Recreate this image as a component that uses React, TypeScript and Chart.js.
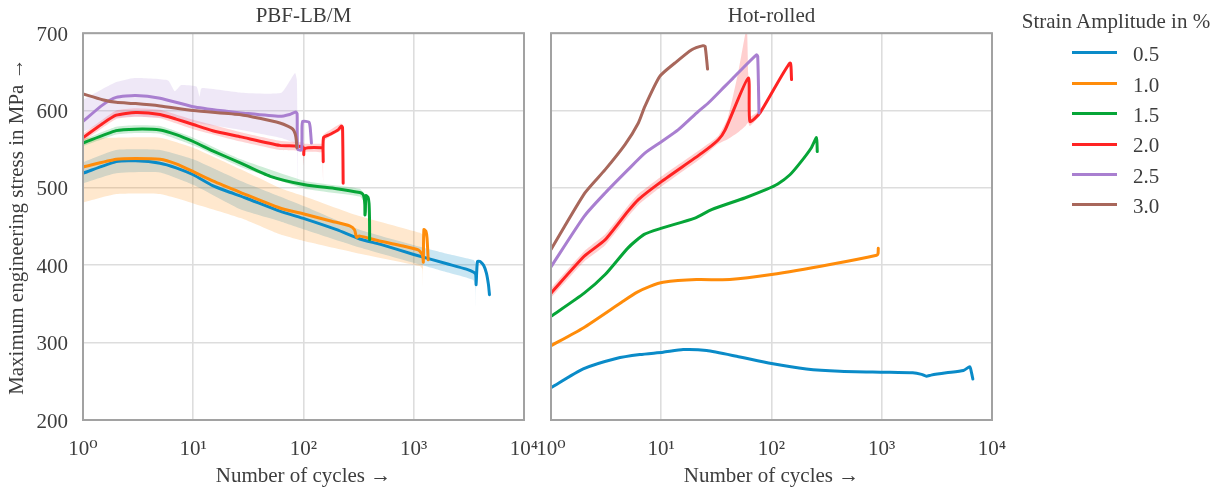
import React, { useEffect, useRef } from 'react';
import { Chart, registerables } from 'chart.js';

Chart.register(...registerables);

// ---------- Axis ticks ----------
const xTickValues = [1, 10, 100, 1000, 10000];
const xTickLabels = ['10⁰', '10¹', '10²', '10³', '10⁴'];
const yTickValues = [200, 300, 400, 500, 600, 700];

// ---------- Legend ----------
const amplitudeLabels = ['0.5', '1.0', '1.5', '2.0', '2.5', '3.0'];
const seriesColors = ['#0a8bc8', '#ff8c0a', '#06a537', '#ff2323', '#a97fd0', '#a8675b'];
const seriesRgb = ['10,139,200', '255,140,10', '6,165,55', '255,35,35', '169,127,208', '168,103,91'];

// ---------- PBF-LB/M (mean curves) ----------
const pbf05N = [1, 2, 3, 5, 7, 10, 15, 20, 30, 61, 103, 200, 324, 500, 1000, 2000, 3000, 3500, 3650, 3680, 3720, 3790, 4000, 4300, 4560, 4760, 4860];
const pbf05S = [519, 534, 535, 532, 526, 517, 503, 496, 487, 470, 460, 446, 434, 427, 414, 402, 395, 391, 388, 375, 390, 405, 405, 400, 390, 375, 362];

const pbf10N = [1, 2, 3, 5, 7, 10, 15, 27, 61, 103, 180, 262, 290, 300, 307, 320, 500, 800, 1097, 1180, 1212, 1222, 1236, 1290, 1320, 1352];
const pbf10S = [527, 537, 538, 537, 531, 521, 509, 494, 474, 466, 457, 451, 446, 438, 436, 438, 431, 425, 420, 415, 410, 404, 446, 444, 435, 407];

const pbf15N = [1, 2, 3, 5, 7, 10, 15, 27, 50, 103, 200, 324, 345, 355, 360, 361, 364, 368, 385, 393, 397, 398];
const pbf15S = [558, 574, 576, 575, 569, 560, 548, 532, 515, 504, 499, 494, 492, 487, 478, 465, 470, 490, 488, 480, 460, 433];

const pbf20N = [1, 1.5, 2, 3, 5, 7, 10, 15, 27, 61, 99, 100.5, 101.5, 110, 146, 150, 151, 152, 173, 206, 221, 226, 229];
const pbf20S = [565, 583, 594, 597.5, 595, 589, 582, 574, 566, 555, 553, 543, 550, 552, 552, 551, 534, 565, 569, 575, 580, 578, 506];

const pbf25N = [1, 1.5, 2, 3, 5, 10, 20, 27, 61, 75, 85, 87.5, 88.5, 95.9, 97, 98.5, 112, 115, 118];
const pbf25S = [586, 607, 617, 619.5, 616, 605, 599, 597, 592.5, 595, 598, 596, 550, 549, 580, 586, 585, 578, 558];

const pbf30N = [1, 1.5, 2, 3, 5, 10, 27, 40, 61, 72, 80, 84, 86, 87];
const pbf30S = [621.4, 614, 610.6, 609, 606, 600, 594.7, 590, 584, 580, 576, 570, 562, 552];

// ---------- PBF-LB/M (scatter bands) ----------
const pbf05BandN = [1, 2, 5, 10, 27, 61, 103, 324, 1136, 2000, 3460, 3640, 3670];
const pbf05Upper = [533, 549, 549, 537, 509, 489, 476, 446, 424, 415, 407, 403, 400];
const pbf05Lower = [506, 519, 520, 504, 472, 457, 446, 423, 401, 391, 381, 370, 347];

const pbf10BandN = [1, 2, 5, 10, 27, 61, 103, 300, 1136, 1200, 1215];
const pbf10Upper = [565, 565, 565, 552, 524, 500, 489, 465, 442, 440, 440];
const pbf10Lower = [481, 492, 492, 480, 461, 440, 431, 416, 399, 395, 369];

const pbf15BandN = [1, 2, 3, 5, 10, 27, 103, 324, 355];
const pbf15Upper = [562, 579, 581, 580, 565, 537, 509, 499, 492];
const pbf15Lower = [554, 569, 571, 570, 555, 527, 499, 489, 482];

const pbf20BandN = [1, 2, 3, 5, 10, 27, 61, 99, 100, 101, 146, 150, 151, 152, 221];
const pbf20Upper = [570, 600, 603, 601, 588, 572, 561, 559, 559, 557, 557, 557, 557, 569, 584];
const pbf20Lower = [560, 589, 592, 590, 576, 560, 549, 547, 528, 546, 546, 546, 504, 560, 575];

const pbf25BandN = [1, 1.94, 2.94, 5.9, 6.8, 7.8, 10.7, 11.4, 11.9, 27.3, 62.8, 83.7, 87, 88, 89];
const pbf25Upper = [614, 636, 642, 639, 625, 633, 631, 618, 629, 623, 623, 648.6, 640, 600, 560];
const pbf25Lower = [572.5, 590, 592, 590, 589, 588, 584, 584, 583, 575, 564.6, 558, 556, 540, 500];

// ---------- Hot-rolled (mean curves) ----------
const hr05N = [1, 1.96, 3.9, 6.4, 10.4, 15.8, 25.8, 48.3, 100, 207, 416, 1000, 1910, 2300, 2540, 2800, 3850, 5500, 6290, 6500, 6700];
const hr05S = [241.6, 266, 279.5, 284.6, 287.6, 291, 289.8, 282.4, 273, 266, 263, 261.8, 261, 259, 256.6, 258, 261, 264, 268.8, 262, 253];

const hr10N = [1, 1.96, 4.5, 6, 7.9, 10.4, 20.9, 41.9, 100, 339, 900, 925, 930];
const hr10S = [296, 319, 353.5, 365, 372.8, 378, 381.5, 381.5, 388, 401, 413, 415, 422];

const hr15N = [1, 2, 3.1, 5, 7, 10.1, 20.2, 28.6, 57.2, 90, 114, 147, 181, 230, 256, 260];
const hr15S = [334, 364, 388, 422.5, 440, 448, 461, 472, 487, 498, 505, 517, 532, 552, 565, 547];

const hr20N = [1, 2, 3.1, 5, 6.2, 10.1, 23.3, 32.8, 38, 61.5, 63.7, 78.6, 147, 152];
const hr20S = [364, 411.6, 433, 470, 485, 508.5, 545, 562, 575, 642, 586, 597, 661.5, 640];

const hr25N = [1, 2, 3.1, 5, 7.1, 10.1, 14.3, 21.7, 26.7, 37.7, 44.8, 49.7, 73, 75, 77];
const hr25S = [398, 463.3, 493.5, 523.6, 545, 560, 575.3, 599, 609.8, 631.3, 642, 648.6, 672, 670, 597];

const hr30N = [1, 2.03, 3.1, 4.69, 6.2, 7.1, 9.7, 13.3, 18.9, 24, 25, 26.3];
const hr30S = [420.3, 493.5, 523.6, 556, 584, 605.4, 644.2, 661.5, 678.7, 683.9, 683, 653.7];

// ---------- Hot-rolled (scatter band) ----------
const hr20BandN = [1, 2, 3.1, 5, 6.2, 10.1, 23.3, 32.8, 40, 50, 58, 60, 61.5, 63.7, 78.6];
const hr20Upper = [370, 418, 440, 477, 492, 515, 551, 567, 590, 650, 700, 705, 648, 592, 601];
const hr20Lower = [358, 405, 426, 463, 478, 502, 539, 557, 563, 572, 580, 583, 584, 580, 593];

// ---------- styling ----------
const FONT = "'Liberation Serif', 'Times New Roman', 'DejaVu Serif', serif";
const TEXT = '#3d3d3d';
const GRID = '#dddddd';
const FRAME = '#a2a2a2';

Chart.defaults.font.family = FONT;
Chart.defaults.color = TEXT;

const pts = (n: number[], s: number[]) => n.map((x, i) => ({ x, y: s[i] }));

function lineDs(n: number[], s: number[], idx: number) {
  return {
    data: pts(n, s),
    borderColor: seriesColors[idx],
    backgroundColor: seriesColors[idx],
    borderWidth: 3,
    pointRadius: 0,
    tension: 0.2,
    borderJoinStyle: 'round',
    borderCapStyle: 'round',
    fill: false,
    order: 10 - idx,
  };
}

function bandDs(n: number[], up: number[], lo: number[], idx: number, alpha: number) {
  return [
    {
      data: pts(n, up),
      borderColor: 'transparent',
      borderWidth: 0,
      pointRadius: 0,
      tension: 0.15,
      backgroundColor: `rgba(${seriesRgb[idx]},${alpha})`,
      fill: '+1',
      order: 40 - idx,
    },
    {
      data: pts(n, lo),
      borderColor: 'transparent',
      borderWidth: 0,
      pointRadius: 0,
      tension: 0.15,
      fill: false,
      order: 40 - idx,
    },
  ];
}

const framePlugin = {
  id: 'frame',
  afterDatasetsDraw(chart: any) {
    const { ctx, chartArea: a } = chart;
    ctx.save();
    ctx.strokeStyle = FRAME;
    ctx.lineWidth = 2;
    ctx.strokeRect(a.left, a.top, a.right - a.left, a.bottom - a.top);
    ctx.restore();
  },
};

function makeConfig(title: string, datasets: any[], showY: boolean, padding: any) {
  return {
    type: 'line',
    data: { datasets },
    options: {
      responsive: false,
      animation: false,
      events: [],
      layout: { padding },
      plugins: {
        legend: { display: false },
        tooltip: { enabled: false },
        title: {
          display: true,
          text: title,
          fullSize: false,
          color: TEXT,
          font: { size: 21, weight: 'normal', family: FONT },
          padding: { top: 4, bottom: 4 },
        },
      },
      scales: {
        x: {
          type: 'logarithmic',
          min: 1,
          max: 10000,
          afterBuildTicks: (s: any) => {
            s.ticks = xTickValues.map((v) => ({ value: v }));
          },
          afterFit: (s: any) => {
            s.height = 70;
          },
          ticks: {
            autoSkip: false,
            maxRotation: 0,
            padding: 17,
            color: TEXT,
            font: { size: 21, family: FONT },
            callback: (v: any) => {
              const i = xTickValues.indexOf(Number(v));
              return i >= 0 ? xTickLabels[i] : '';
            },
          },
          grid: { color: GRID, lineWidth: 1.6, drawTicks: false },
          border: { display: false },
          title: {
            display: true,
            text: 'Number of cycles →',
            color: TEXT,
            font: { size: 21, family: FONT },
            padding: { top: 0, bottom: 1 },
          },
        },
        y: {
          type: 'linear',
          min: 200,
          max: 700,
          afterBuildTicks: (s: any) => {
            s.ticks = yTickValues.map((v) => ({ value: v }));
          },
          afterFit: (s: any) => {
            s.width = showY ? 83 : 0;
          },
          ticks: {
            display: showY,
            padding: 15,
            labelOffset: 2,
            color: TEXT,
            font: { size: 21, family: FONT },
          },
          grid: { color: GRID, lineWidth: 1.6, drawTicks: false },
          border: { display: false },
          title: {
            display: showY,
            text: 'Maximum engineering stress in MPa →',
            color: TEXT,
            font: { size: 21, family: FONT },
            padding: { top: 5, bottom: 0 },
          },
        },
      },
    },
    plugins: [framePlugin],
  } as any;
}

export default function App() {
  const leftRef = useRef<HTMLCanvasElement>(null);
  const rightRef = useRef<HTMLCanvasElement>(null);

  useEffect(() => {
    const leftSets = [
      ...bandDs(pbf05BandN, pbf05Upper, pbf05Lower, 0, 0.22),
      ...bandDs(pbf10BandN, pbf10Upper, pbf10Lower, 1, 0.2),
      ...bandDs(pbf15BandN, pbf15Upper, pbf15Lower, 2, 0.2),
      ...bandDs(pbf20BandN, pbf20Upper, pbf20Lower, 3, 0.2),
      ...bandDs(pbf25BandN, pbf25Upper, pbf25Lower, 4, 0.18),
      lineDs(pbf05N, pbf05S, 0),
      lineDs(pbf10N, pbf10S, 1),
      lineDs(pbf15N, pbf15S, 2),
      lineDs(pbf20N, pbf20S, 3),
      lineDs(pbf25N, pbf25S, 4),
      lineDs(pbf30N, pbf30S, 5),
    ];
    const rightSets = [
      ...bandDs(hr20BandN, hr20Upper, hr20Lower, 3, 0.22),
      lineDs(hr05N, hr05S, 0),
      lineDs(hr10N, hr10S, 1),
      lineDs(hr15N, hr15S, 2),
      lineDs(hr20N, hr20S, 3),
      lineDs(hr25N, hr25S, 4),
      lineDs(hr30N, hr30S, 5),
    ];
    const c1 = new Chart(
      leftRef.current as HTMLCanvasElement,
      makeConfig('PBF-LB/M', leftSets, true, { left: 0, right: 1228 - 524, top: 0, bottom: 0 })
    );
    const c2 = new Chart(
      rightRef.current as HTMLCanvasElement,
      makeConfig('Hot-rolled', rightSets, false, { left: 551, right: 1228 - 992, top: 0, bottom: 0 })
    );
    return () => {
      c1.destroy();
      c2.destroy();
    };
  }, []);

  return (
    <div
      style={{
        position: 'fixed',
        left: 0,
        top: 0,
        width: 1228,
        height: 490,
        background: '#ffffff',
        fontFamily: FONT,
        color: TEXT,
        overflow: 'hidden',
      }}
    >
      <canvas ref={leftRef} width={1228} height={490} style={{ position: 'absolute', left: 0, top: 0 }} />
      <canvas ref={rightRef} width={1228} height={490} style={{ position: 'absolute', left: 0, top: 0 }} />
      <div
        style={{
          position: 'absolute',
          left: 1006,
          top: 9,
          width: 220,
          textAlign: 'center',
          fontSize: 21,
          lineHeight: '25px',
          whiteSpace: 'nowrap',
        }}
      >
        Strain Amplitude in %
      </div>
      {amplitudeLabels.map((lab, i) => {
        const cy = 52.7 + i * 30.45;
        return (
          <React.Fragment key={lab}>
            <div
              style={{
                position: 'absolute',
                left: 1072,
                top: cy - 1.5,
                width: 45,
                height: 3,
                background: seriesColors[i],
              }}
            />
            <div
              style={{
                position: 'absolute',
                left: 1133,
                top: cy - 10.6,
                fontSize: 21,
                lineHeight: '25px',
                whiteSpace: 'nowrap',
              }}
            >
              {lab}
            </div>
          </React.Fragment>
        );
      })}
    </div>
  );
}
